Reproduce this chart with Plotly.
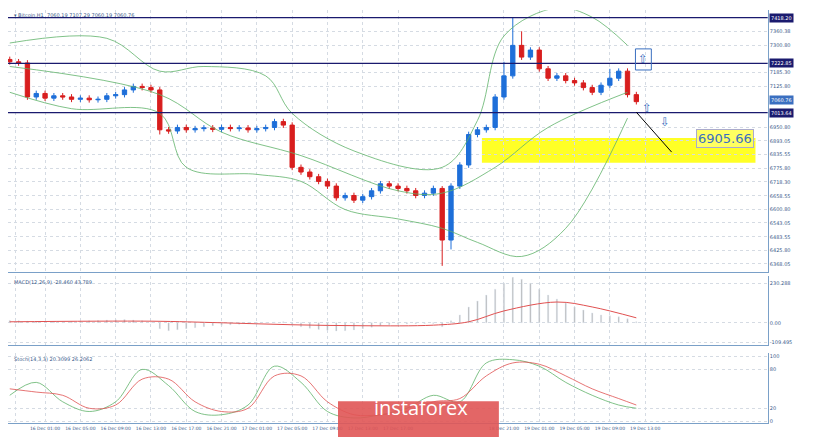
import plotly.graph_objects as go

closes = [7230,7225,7080,7095,7075,7085,7080,7070,7075,7068,7070,7085,7090,7110,7125,7120,7110,
          6940,6935,6950,6940,6945,6948,6942,6950,6945,6948,6940,6945,6950,6975,6960,
          6780,6760,6740,6720,6700,6650,6660,6640,6655,6680,6710,6700,6690,6680,6660,6670,6690,
          6470,6700,6790,6920,6940,6950,7080,7170,7300,7250,7280,7200,7160,7170,7150,7140,7120,
          7100,7130,7160,7190,7090,7060]
first_open = 7240
wick_up = {49: 10, 57: 120, 58: 60, 56: 60, 68: 40}
wick_dn = {49: 110, 17: 20, 50: 40}

bb_idx = [0, 11, 17, 22, 29, 32, 39, 49, 53, 56, 62, 66, 70]
bb_upper = [7310, 7330, 7190, 7210, 7170, 7010, 6850, 6780, 6980, 7340, 7460, 7420, 7300]
bb_mid_idx = [0, 17, 24, 33, 44, 49, 55, 61, 70]
bb_mid = [7210, 7090, 6930, 6830, 6680, 6670, 6780, 6950, 7100]
bb_lower_idx = [0, 7, 17, 20, 28, 33, 38, 44, 49, 53, 58, 63, 70]
bb_lower = [7100, 7030, 7010, 6780, 6750, 6720, 6600, 6560, 6520, 6460, 6400, 6520, 6990]

macd_hist = [12,10,8,6,5,5,4,6,8,10,12,14,15,16,14,10,2,-30,-40,-35,-30,-25,-20,-15,-12,-10,-8,-5,-3,0,3,5,
             -10,-20,-28,-34,-38,-42,-40,-36,-30,-22,-14,-10,-8,-6,-5,-4,-3,-20,10,40,80,110,140,170,
             200,230,220,200,170,140,120,100,80,65,50,40,35,30,20,5]
sig_idx = [0, 16, 24, 32, 40, 48, 52, 56, 62, 66, 71]
macd_sig = [5, 8, 0, -10, -15, -12, 5, 60, 105, 80, 25]

st_idx = [0,3,6,9,12,15,18,21,24,27,30,33,36,39,42,45,48,51,54,57,60,63,66,69,71]
st_k = [40,60,30,15,30,80,55,15,10,25,85,60,15,5,10,20,40,30,90,95,85,60,40,25,20]
st_d = [50,45,40,20,25,65,65,30,15,20,70,70,30,10,10,15,30,35,70,90,88,70,50,35,25]

xt_idx = [0.6,4,8,12,16,20,24,28,32,36,40,44,56,60,64,68,72]
xt_lbl = ["15 Dec 2019","16 Dec 01:00","16 Dec 05:00","16 Dec 09:00","16 Dec 13:00","16 Dec 17:00",
          "16 Dec 21:00","17 Dec 01:00","17 Dec 05:00","17 Dec 09:00","17 Dec 13:00","17 Dec 17:00",
          "18 Dec 21:00","19 Dec 01:00","19 Dec 05:00","19 Dec 09:00","19 Dec 13:00"]
price_ticks = [7360.38,7300.80,7185.30,7125.80,6950.80,6893.05,
               6835.55,6775.80,6718.30,6658.55,6600.80,6543.05,6483.55,6425.80,6368.05]
levels = [7418.20, 7222.85, 7013.64]

n = len(closes)
xs = list(range(n))
opens = [first_open] + closes[:-1]
highs = [max(o, c) + wick_up.get(i, 12) for i, (o, c) in enumerate(zip(opens, closes))]
lows = [min(o, c) - wick_dn.get(i, 12) for i, (o, c) in enumerate(zip(opens, closes))]

fig = go.Figure()
fig.add_trace(go.Candlestick(x=xs, open=opens, high=highs, low=lows, close=closes,
    increasing=dict(line=dict(color="#1e6fd9", width=1), fillcolor="#1e6fd9"),
    decreasing=dict(line=dict(color="#d81e1e", width=1), fillcolor="#d81e1e"),
    whiskerwidth=0, xaxis="x", yaxis="y"))
for ix, vals in [(bb_idx, bb_upper), (bb_mid_idx, bb_mid), (bb_lower_idx, bb_lower)]:
    fig.add_trace(go.Scatter(x=ix, y=vals, mode="lines", line=dict(color="#5fb36a", width=0.8, shape="spline"),
                             xaxis="x", yaxis="y"))
fig.add_trace(go.Bar(x=xs, y=macd_hist, marker_color="#b0b0b0", width=0.15, xaxis="x2", yaxis="y2"))
fig.add_trace(go.Scatter(x=sig_idx, y=macd_sig, mode="lines", line=dict(color="#e05050", width=1, shape="spline"),
                         xaxis="x2", yaxis="y2"))
fig.add_trace(go.Scatter(x=st_idx, y=st_k, mode="lines", line=dict(color="#5fb36a", width=0.8, shape="spline"),
                         xaxis="x3", yaxis="y3"))
fig.add_trace(go.Scatter(x=st_idx, y=st_d, mode="lines", line=dict(color="#e05050", width=0.8, shape="spline"),
                         xaxis="x3", yaxis="y3"))

xr = [-0.2, 85.9]
grid = dict(showgrid=True, gridcolor="#d5dbe3", griddash="dot", gridwidth=1)
ax = dict(range=xr, tickvals=xt_idx, **grid, showline=True, linecolor="#7aa0c8", zeroline=False)
fig.update_layout(
    width=825, height=437, margin=dict(l=0, r=0, t=0, b=0), paper_bgcolor="white", plot_bgcolor="white",
    showlegend=False, font=dict(family="DejaVu Sans", size=5, color="#3a5a8a"),
    xaxis=dict(domain=[0, 0.921], anchor="y", showticklabels=False, rangeslider=dict(visible=False), **ax),
    xaxis2=dict(domain=[0, 0.921], anchor="y2", showticklabels=False, matches="x", **ax),
    xaxis3=dict(domain=[0, 0.921], anchor="y3", ticktext=xt_lbl, ticks="", tickangle=0, matches="x",
                tickfont=dict(size=4.5), **ax),
    yaxis=dict(domain=[0.396, 0.995], range=[6334, 7450], side="right", tickvals=price_ticks,
               ticktext=[f"{v:.2f}" for v in price_ticks], **grid, showline=True, linecolor="#7aa0c8", zeroline=False),
    yaxis2=dict(domain=[0.229, 0.386], range=[-112, 235], side="right", tickvals=[200, 0, -100],
                ticktext=["230.288", "0.00", "-109.495"], **grid, showline=True, linecolor="#7aa0c8", zeroline=False),
    yaxis3=dict(domain=[0.05, 0.21], range=[-3, 105], side="right", tickvals=[100, 80, 20, 0],
                **grid, showline=True, linecolor="#7aa0c8", zeroline=False),
)
for lv in levels:
    fig.add_shape(type="line", xref="x", yref="y", x0=xr[0], x1=xr[1], y0=lv, y1=lv, line=dict(color="#1a1a6e", width=1.2))
    fig.add_annotation(xref="paper", yref="y", x=0.923, y=lv, text=f"{lv:.2f}", showarrow=False, xanchor="left",
                       font=dict(size=5, color="white"), bgcolor="#1a1a6e")
fig.add_annotation(xref="paper", yref="y", x=0.923, y=closes[-1] + 8, text="7060.76", showarrow=False,
                   xanchor="left", font=dict(size=5, color="white"), bgcolor="#3a6fc0")
fig.add_shape(type="rect", xref="x", yref="y", x0=53.5, x1=84.5, y0=6800, y1=6905, fillcolor="#ffff00",
              line=dict(width=0), opacity=0.85, layer="below")
fig.add_annotation(xref="x", yref="y", x=81, y=6905, text="6905.66", showarrow=False,
                   font=dict(size=13, color="#3a6fc0"), bgcolor="#ffff60", bordercolor="#aac", borderwidth=1)
fig.add_shape(type="line", xref="x", yref="y", x0=71, y0=7015, x1=75, y1=6845, line=dict(color="black", width=1))
for (xa, ya, sym) in [(71.8, 7240, "⇧"), (72.2, 7035, "⇧"), (74.2, 6975, "⇩")]:
    fig.add_annotation(xref="x", yref="y", x=xa, y=ya, text=sym, showarrow=False, font=dict(size=12, color="#3a6fc0"))
fig.add_shape(type="rect", xref="x", yref="y", x0=70.9, x1=72.7, y0=7195, y1=7285, line=dict(color="#3a6fc0", width=1))
fig.add_annotation(xref="paper", yref="paper", x=0.005, y=0.995, text="▾ Bitcoin,H1  7060.19 7107.29 7060.19 7060.76",
                   showarrow=False, xanchor="left", yanchor="top", font=dict(size=5, color="#3a5a8a"))
fig.add_annotation(xref="paper", yref="paper", x=0.005, y=0.384, text="MACD(12,26,9) -28.460 43.789",
                   showarrow=False, xanchor="left", yanchor="top", font=dict(size=5, color="#3a5a8a"))
fig.add_annotation(xref="paper", yref="paper", x=0.005, y=0.208, text="Stoch(14,3,3) 20.3099 26.2062",
                   showarrow=False, xanchor="left", yanchor="top", font=dict(size=5, color="#3a5a8a"))
fig.add_shape(type="rect", xref="paper", yref="paper", x0=0.4, x1=0.595, y0=0, y1=0.1,
              fillcolor="#e05555", line=dict(width=0), opacity=0.9)
fig.add_annotation(xref="paper", yref="paper", x=0.5, y=0.05, text="instaforex", showarrow=False,
                   font=dict(size=20, color="white", family="Open Sans"))
fig.write_html("out.html")
